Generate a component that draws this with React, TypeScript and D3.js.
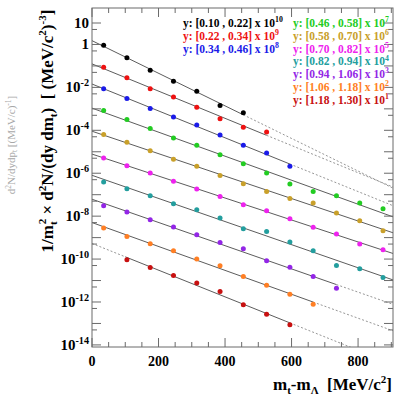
import React from 'react';
import * as d3 from 'd3';

// m_t - m_Lambda bin centres [MeV/c^2]
const mtBins = [35, 105, 175, 245, 315, 385, 455, 525, 595, 665, 735, 805, 875];

// spectra per rapidity bin, already multiplied by the legend factor
const spec0 = [0.92, 0.239, 0.063, 0.0194, 0.0066, 0.00142, 6.5e-4];
const spec1 = [0.087, 0.0279, 0.00855, 0.00361, 0.00118, 3.5e-4, 1.38e-4, 8.4e-5];
const spec2 = [8.55e-3, 3.01e-3, 1.03e-3, 4.2e-4, 1.79e-4, 6.1e-5, 2.0e-5, 8.8e-6, 2.09e-6];
const spec3 = [8.3e-4, 3.15e-4, 1.2e-4, 4.4e-5, 2.0e-5, 7.3e-6, 2.8e-6, 1.03e-6, 3.15e-7, 1.42e-7, 9.0e-8, 4.1e-8, 2.2e-8];
const spec4 = [6.3e-5, 2.75e-5, 1.13e-5, 4.5e-6, 2.09e-6, 7.9e-7, 3.26e-7, 1.42e-7, 6.7e-8, 4.1e-8, 1.4e-8, 6.1e-9, 2.1e-9];
const spec5 = [5.15e-6, 2.25e-6, 1.03e-6, 4.2e-7, 1.84e-7, 8.3e-8, 3.4e-8, 1.79e-8, 7.6e-9, 3.0e-9, 1.47e-9, 5.0e-10, 2.7e-10];
const spec6 = [3.9e-7, 1.9e-7, 9.0e-8, 3.8e-8, 2.0e-8, 8.2e-9, 2.6e-9, 1.94e-9, 6.2e-10, 2.43e-10, 5.0e-11, 3.5e-11, 1.38e-11];
const spec7 = [3.06e-8, 1.56e-8, 6.8e-9, 3.1e-9, 1.36e-9, 5.9e-10, 3.0e-10, 8.3e-11, 4.2e-11, 1.54e-11, 4.4e-12];
const spec8 = [2.8e-9, 1.13e-9, 5.2e-10, 2.43e-10, 1.0e-10, 4.85e-11, 1.54e-11, 6.1e-12, 2.3e-12, 7.9e-13];
const spec9 = [null, 9.2e-11, 4.05e-11, 1.71e-11, 7.6e-12, 3.07e-12, 7.4e-13, 2.7e-13, 8.6e-14];

const spectra = [spec0, spec1, spec2, spec3, spec4, spec5, spec6, spec7, spec8, spec9];

const yRanges = [
  '[0.10 , 0.22]', '[0.22 , 0.34]', '[0.34 , 0.46]', '[0.46 , 0.58]', '[0.58 , 0.70]',
  '[0.70 , 0.82]', '[0.82 , 0.94]', '[0.94 , 1.06]', '[1.06 , 1.18]', '[1.18 , 1.30]',
];
const scaleExp = [10, 9, 8, 7, 6, 5, 4, 3, 2, 1];

// fit range (solid part of each exponential fit)
const fitLow = [0, 0, 0, 0, 0, 0, 0, 0, 0, 100];
const fitHigh = [455, 525, 595, 905, 905, 905, 905, 735, 665, 595];

const colors = ['#000000', '#ee1111', '#1a1ae8', '#22cc22', '#c9a02a', '#ee22ee', '#239e9e', '#9326e6', '#ff7f24', '#c81010'];

const W = 396, H = 395;
const left = 92, right = 393, top = 8, bottom = 347;
const font = '"Liberation Serif", "Times New Roman", serif';

const x = d3.scaleLinear().domain([0, 905]).range([left, right]);
const y = d3.scaleLog().domain([8e-15, 50]).range([bottom, top]);

function fitLine(vals: (number | null)[], lo: number, hi: number) {
  const pts = vals
    .map((v, i) => ({ x: mtBins[i], v }))
    .filter(p => p.v != null && p.x >= lo && p.x <= hi)
    .map(p => ({ x: p.x, l: Math.log10(p.v as number) }));
  const mx = d3.mean(pts, p => p.x) as number;
  const ml = d3.mean(pts, p => p.l) as number;
  const b = d3.sum(pts, p => (p.x - mx) * (p.l - ml)) / d3.sum(pts, p => (p.x - mx) ** 2);
  const a = ml - b * mx;
  return (xv: number) => Math.pow(10, a + b * xv);
}

function Sup({ base, exp, size }: { base: string; exp: string; size: number }) {
  return (
    <>
      {base}
      <tspan fontSize={size * 0.68} dy={-size * 0.42}>{exp}</tspan>
    </>
  );
}

export default function App() {
  const axisColor = '#6a6a6a';

  // ticks
  const xTicks = d3.range(0, 901, 50);
  const decades = d3.range(-14, 2);
  const fives = d3.range(-15, 2).map(e => 5 * Math.pow(10, e)).filter(v => v > 8e-15 && v < 50);
  const labelled = [1, 0, -2, -4, -6, -8, -10, -12, -14];

  return (
    <svg width={W} height={H} style={{ position: 'absolute', left: 0, top: 0, background: '#fff' }}>
      <defs>
        <clipPath id="plotArea">
          <rect x={left} y={top} width={right - left} height={bottom - top} />
        </clipPath>
      </defs>

      {/* fits */}
      <g clipPath="url(#plotArea)">
        {spectra.map((vals, k) => {
          const f = fitLine(vals, fitLow[k], fitHigh[k]);
          const lo = fitLow[k], hi = Math.min(fitHigh[k], 905);
          const seg = (a: number, b: number) => `M${x(a)},${y(f(a))}L${x(b)},${y(f(b))}`;
          return (
            <g key={k}>
              <path d={seg(lo, hi)} stroke="#4a4a4a" strokeWidth={0.9} fill="none" />
              {lo > 0 && <path d={seg(0, lo)} stroke="#8a8a8a" strokeWidth={0.9} strokeDasharray="2,2" fill="none" />}
              {hi < 905 && <path d={seg(hi, 905)} stroke="#8a8a8a" strokeWidth={0.9} strokeDasharray="2,2" fill="none" />}
            </g>
          );
        })}
      </g>

      {/* data points */}
      {spectra.map((vals, k) => (
        <g key={k} fill={colors[k]}>
          {vals.map((v, i) => v == null ? null : (
            <circle key={i} cx={x(mtBins[i])} cy={y(v)} r={2.5} />
          ))}
        </g>
      ))}

      {/* frame */}
      <rect x={left} y={top} width={right - left} height={bottom - top} fill="none" stroke={axisColor} strokeWidth={1} />

      <g stroke={axisColor} strokeWidth={1}>
        {xTicks.map(t => {
          const len = t % 200 === 0 ? 9 : 5;
          return (
            <g key={t}>
              <line x1={x(t)} x2={x(t)} y1={bottom} y2={bottom - len} />
              <line x1={x(t)} x2={x(t)} y1={top} y2={top + len} />
            </g>
          );
        })}
        {decades.map(e => (
          <g key={e}>
            <line x1={left} x2={left + 9} y1={y(Math.pow(10, e))} y2={y(Math.pow(10, e))} />
            <line x1={right} x2={right - 9} y1={y(Math.pow(10, e))} y2={y(Math.pow(10, e))} />
          </g>
        ))}
        {fives.map((v, i) => (
          <g key={i}>
            <line x1={left} x2={left + 5} y1={y(v)} y2={y(v)} />
            <line x1={right} x2={right - 5} y1={y(v)} y2={y(v)} />
          </g>
        ))}
      </g>

      {/* tick labels */}
      <g fontFamily={font} fontWeight="bold" fill="#000">
        {[0, 200, 400, 600, 800].map(t => (
          <text key={t} x={x(t)} y={366} fontSize={14} textAnchor="middle">{t}</text>
        ))}
        {labelled.map(e => {
          const yy = y(Math.pow(10, e)) + 5;
          if (e === 1) return <text key={e} x={89} y={yy} fontSize={15} textAnchor="end">10</text>;
          if (e === 0) return <text key={e} x={89} y={yy} fontSize={15} textAnchor="end">1</text>;
          return (
            <text key={e} x={89} y={yy} fontSize={15} textAnchor="end">
              <Sup base="10" exp={String(e)} size={15} />
            </text>
          );
        })}
      </g>

      {/* axis titles */}
      <text x={392} y={390} fontFamily={font} fontWeight="bold" fontSize={17} textAnchor="end">
        m<tspan fontSize={11} dy={4}>t</tspan>
        <tspan dy={-4}>-m</tspan>
        <tspan fontSize={11} dy={4}>Λ</tspan>
        <tspan dy={-4}>{'\u00a0\u00a0[MeV/c'}</tspan>
        <tspan fontSize={11} dy={-7}>2</tspan>
        <tspan dy={7}>]</tspan>
      </text>

      <text transform="translate(53,131) rotate(-90)" fontFamily={font} fontWeight="bold" fontSize={17} textAnchor="middle">
        1/m<tspan fontSize={11} dy={4}>t</tspan>
        <tspan fontSize={11} dy={-11} dx={-3}>2</tspan>
        <tspan dy={7}>{' × d'}</tspan>
        <tspan fontSize={11} dy={-7}>2</tspan>
        <tspan dy={7}>N/(dy dm</tspan>
        <tspan fontSize={11} dy={4}>t</tspan>
        <tspan dy={-4}>{')\u00a0\u00a0[ (MeV/c'}</tspan>
        <tspan fontSize={11} dy={-7}>2</tspan>
        <tspan dy={7}>)</tspan>
        <tspan fontSize={11} dy={-7}>-3</tspan>
        <tspan dy={7}>]</tspan>
      </text>

      {/* faint second title underneath */}
      <text transform="translate(15,145) rotate(-90)" fontFamily={font} fontSize={11} fill="#8a8a8a" textAnchor="middle" opacity={0.75}>
        d<tspan fontSize={7.5} dy={-4}>2</tspan>
        <tspan dy={4}>N/dydp</tspan>
        <tspan fontSize={7.5} dy={2}>t</tspan>
        <tspan dy={-2}>{' [(MeV/c)'}</tspan>
        <tspan fontSize={7.5} dy={-4}>-1</tspan>
        <tspan dy={4}>]</tspan>
      </text>

      {/* legend */}
      <g fontFamily={font} fontWeight="bold" fontSize={11.5}>
        {yRanges.map((r, k) => {
          const col = k < 3 ? 0 : 1;
          const row = k < 3 ? k : k - 3;
          const lx = col === 0 ? 183 : 293;
          const ly = 27 + row * 12.8;
          return (
            <text key={k} x={lx} y={ly} fill={colors[k]}>
              {`y: ${r} x `}
              <Sup base="10" exp={String(scaleExp[k])} size={11.5} />
            </text>
          );
        })}
      </g>
    </svg>
  );
}
